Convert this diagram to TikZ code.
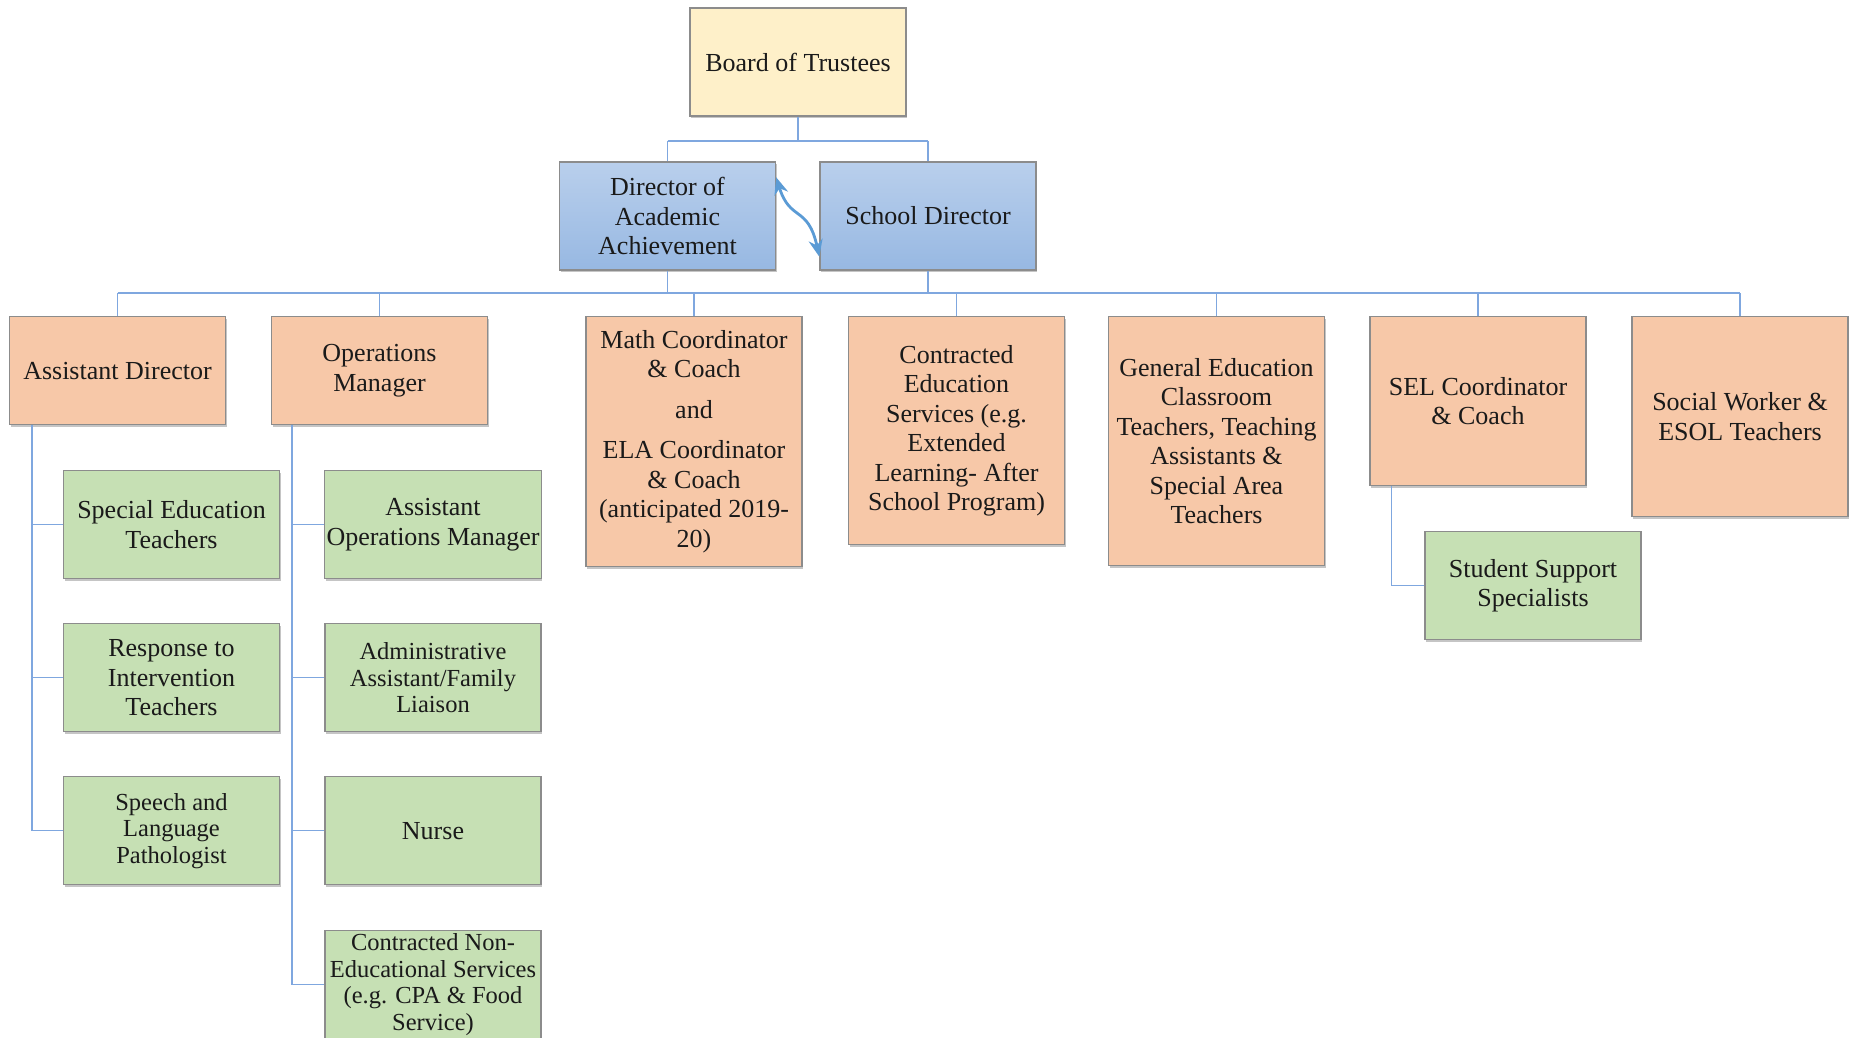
\documentclass[tikz,border=0pt]{standalone}
\usepackage{fontspec}
\setmainfont{Liberation Serif}
\usetikzlibrary{shadows,arrows.meta,calc}
\definecolor{connc}{HTML}{7FA7DF}
\definecolor{ylw}{HTML}{FEF0C9}
\definecolor{blueT}{HTML}{B9CFEC}
\definecolor{blueB}{HTML}{97B8E2}
\definecolor{orng}{HTML}{F7C8A8}
\definecolor{grn}{HTML}{C6E0B4}
\definecolor{bord}{HTML}{8C8C8C}
\definecolor{arrc}{HTML}{5B9BD5}
\definecolor{txt}{HTML}{1A1A1A}
\begin{document}
\begin{tikzpicture}[x=1pt,y=-1pt,
  box/.style={draw=bord, line width=1.4pt, minimum width=216pt, minimum height=108pt,
    inner sep=2pt, align=center, text=txt, font=\fontsize{26}{29.5}\selectfont,
    drop shadow={shadow xshift=1pt, shadow yshift=-2pt, opacity=.45, fill=gray}},
  ybox/.style={box, fill=ylw},
  bbox/.style={box, top color=blueT, bottom color=blueB},
  obox/.style={box, fill=orng, anchor=north},
  gbox/.style={box, fill=grn, anchor=north},
  small/.style={font=\fontsize{24.5}{26.5}\selectfont},
  conn/.style={draw=connc, line width=1.4pt},
  arrw/.style={draw=arrc, line width=2.8pt, arrows={Stealth[length=17pt,width=14pt]-Stealth[length=17pt,width=14pt]}}
]
\fill[white] (0,0) rectangle (1853,1037);
\useasboundingbox (0,0) rectangle (1853,1037);

\coordinate (top) at (0,141);
\coordinate (bus) at (0,293);

\node[ybox] (bot) at (798,62) {Board of Trustees};
\node[bbox] (daa) at (667.5,216) {Director of\\Academic\\Achievement};
\node[bbox] (sd) at (928,216) {School Director};

\node[obox] (ad) at (117.5,316) {Assistant Director};
\node[obox] (om) at (379.5,316) {Operations\\Manager};
\node[obox, minimum height=250pt] (math) at (694,316) {Math Coordinator\\\& Coach\\[11pt]and\\[11pt]ELA Coordinator\\\& Coach\\(anticipated 2019-\\20)};
\node[obox, minimum height=228pt] (ces) at (956.5,316) {Contracted\\Education\\Services (e.g.\\Extended\\Learning- After\\School Program)};
\node[obox, minimum height=249pt] (gen) at (1216.5,316) {General Education\\Classroom\\Teachers, Teaching\\Assistants \&\\Special Area\\Teachers};
\node[obox, minimum height=169pt] (sel) at (1478,316) {SEL Coordinator\\\& Coach};
\node[obox, minimum height=200pt] (sw) at (1740,316) {Social Worker \&\\ESOL Teachers};

\node[gbox] (se) at (171.5,470) {Special Education\\Teachers};
\node[gbox] (rti) at (171.5,623) {Response to\\Intervention\\Teachers};
\node[gbox, small] (slp) at (171.5,776) {Speech and\\Language\\Pathologist};

\node[gbox] (aom) at (433,470) {Assistant\\Operations Manager};
\node[gbox, small] (aaf) at (433,623) {Administrative\\Assistant/Family\\Liaison};
\node[gbox] (nurse) at (433,776) {Nurse};
\node[gbox, small] (cnes) at (433,930) {Contracted Non-\\Educational Services\\(e.g. CPA \& Food\\Service)};

\node[gbox] (sss) at (1533,531) {Student Support\\Specialists};

% connectors
\draw[conn] (bot.south) -- (bot.south |- top);
\draw[conn] (daa.north |- top) -- (sd.north |- top);
\draw[conn] (daa.north |- top) -- (daa.north);
\draw[conn] (sd.north |- top) -- (sd.north);
\draw[conn] (daa.south) -- (daa.south |- bus);
\draw[conn] (sd.south) -- (sd.south |- bus);
\draw[conn] (ad.north |- bus) -- (sw.north |- bus);
\foreach \n in {ad,om,math,ces,gen,sel,sw}
  \draw[conn] (\n.north |- bus) -- (\n.north);
\foreach \c in {se,rti,slp}
  \draw[conn] ([xshift=23pt]ad.south west) |- (\c.west);
\foreach \c in {aom,aaf,nurse,cnes}
  \draw[conn] ([xshift=21pt]om.south west) |- (\c.west);
\draw[conn] ([xshift=22pt]sel.south west) |- (sss.west);

\draw[arrw] ([yshift=-16pt]daa.north east) .. controls (790,222) and (808,205) .. ([yshift=14pt]sd.south west);
\end{tikzpicture}
\end{document}
